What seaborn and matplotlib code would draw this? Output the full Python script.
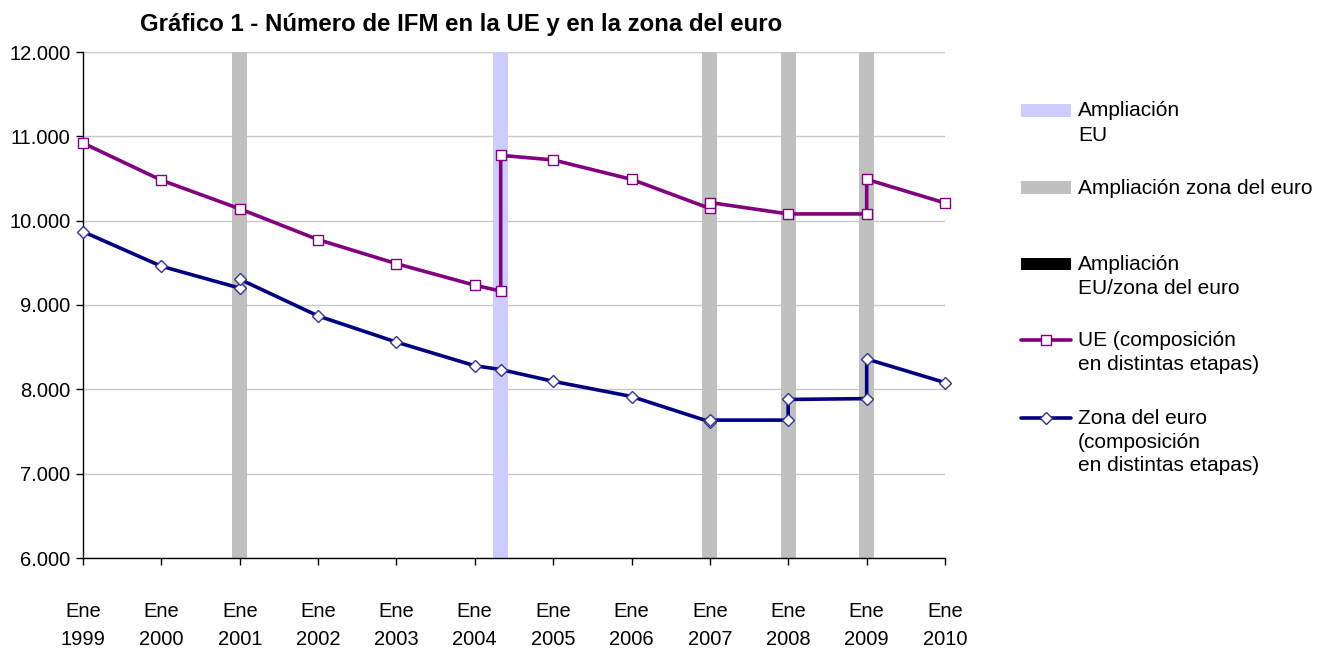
import numpy as np
import pandas as pd
import matplotlib
matplotlib.use("Agg")
import matplotlib.pyplot as plt
import matplotlib.patches as mpatches
import matplotlib.lines as mlines
from matplotlib.ticker import FuncFormatter
import seaborn as sns

# ─── DATA ─────────────────────────────────────────────────────────────────────
ue_fechas = ["1999-01-01", "2000-01-01", "2001-01-01", "2002-01-01", "2003-01-01",
             "2004-01-01", "2004-05-01", "2004-05-01", "2005-01-01", "2006-01-01",
             "2007-01-01", "2007-01-01", "2008-01-01", "2009-01-01", "2009-01-01",
             "2010-01-01"]
ue_valores = [10920, 10480, 10140, 9775, 9490,
              9235, 9165, 10775, 10720, 10490,
              10145, 10215, 10080, 10080, 10490,
              10210]

euro_fechas = ["1999-01-01", "2000-01-01", "2001-01-01", "2001-01-01", "2002-01-01",
               "2003-01-01", "2004-01-01", "2004-05-01", "2005-01-01", "2006-01-01",
               "2007-01-01", "2007-01-01", "2008-01-01", "2008-01-01", "2009-01-01",
               "2009-01-01", "2010-01-01"]
euro_valores = [9870, 9460, 9200, 9305, 8870,
                8560, 8280, 8235, 8095, 7915,
                7615, 7635, 7635, 7880, 7890,
                8360, 8080]

ampliacion_ue = ["2004-05-01"]
ampliacion_euro = ["2001-01-01", "2007-01-01", "2008-01-01", "2009-01-01"]

anios = list(range(1999, 2011))
y_ticks = [6000, 7000, 8000, 9000, 10000, 11000, 12000]

titulo = "Gráfico 1 - Número de IFM en la UE y en la zona del euro"
etiquetas_leyenda = [
    "Ampliación\nEU",
    "Ampliación zona del euro",
    "Ampliación\nEU/zona del euro",
    "UE (composición\nen distintas etapas)",
    "Zona del euro\n(composición\nen distintas etapas)",
]

# ─── STYLE ────────────────────────────────────────────────────────────────────
PURPLE = "#800080"
NAVY = "#000080"
DIAMOND_EDGE = "#333399"
BAND_GRAY = "#C0C0C0"
BAND_BLUE = "#CCCCFF"

sns.set_style("white")
plt.rcParams["font.family"] = ["Liberation Sans", "DejaVu Sans"]
plt.rcParams["text.color"] = "black"
FS_TICK = 14.5
FS_LEG = 15
FS_TITLE = 17.3

df_ue = pd.DataFrame({"fecha": pd.to_datetime(ue_fechas), "valor": ue_valores})
df_euro = pd.DataFrame({"fecha": pd.to_datetime(euro_fechas), "valor": euro_valores})

W, H = 1329, 648
fig = plt.figure(figsize=(W / 100, H / 100), dpi=100)
ax = fig.add_axes([83 / W, 1 - 558 / H, (945 - 83) / W, (558 - 52) / H])

# bands
half = pd.Timedelta(days=35)
for d in ampliacion_euro:
    d = pd.Timestamp(d)
    ax.axvspan(d - half, d + half, color=BAND_GRAY, lw=0, zorder=1)
for d in ampliacion_ue:
    d = pd.Timestamp(d)
    ax.axvspan(d - half, d + half, color=BAND_BLUE, lw=0, zorder=1)

# series
sns.lineplot(data=df_ue, x="fecha", y="valor", sort=False, estimator=None, ax=ax,
             color=PURPLE, linewidth=2.6, marker="s", markersize=7.5,
             markerfacecolor="white", markeredgecolor=PURPLE, markeredgewidth=1.0,
             clip_on=False, zorder=3)
sns.lineplot(data=df_euro, x="fecha", y="valor", sort=False, estimator=None, ax=ax,
             color=NAVY, linewidth=2.6, marker="D", markersize=6.5,
             markerfacecolor="white", markeredgecolor=DIAMOND_EDGE, markeredgewidth=1.0,
             clip_on=False, zorder=3)

# axes
ax.set_xlim(pd.Timestamp("1999-01-01"), pd.Timestamp("2010-01-01"))
ax.set_ylim(6000, 12000)
ax.set_yticks(y_ticks)
ax.yaxis.set_major_formatter(FuncFormatter(lambda v, p: f"{v:,.0f}".replace(",", ".")))
xt = [pd.Timestamp(f"{a}-01-01") for a in anios]
ax.set_xticks(xt)
ax.set_xticklabels([f"Ene\n{a}" for a in anios], linespacing=1.6)
ax.set_xlabel("")
ax.set_ylabel("")
ax.grid(axis="y", color="#C8C8C8", linewidth=1.0, zorder=0)
ax.grid(axis="x", visible=False)
ax.set_axisbelow(True)
for s in ["top", "right"]:
    ax.spines[s].set_visible(False)
for s in ["left", "bottom"]:
    ax.spines[s].set_color("black")
    ax.spines[s].set_linewidth(1.0)
ax.tick_params(axis="x", direction="out", length=5, width=1, color="black",
               labelcolor="black", labelsize=FS_TICK, pad=27, bottom=True)
ax.tick_params(axis="y", direction="out", length=5, width=1, color="black",
               labelcolor="black", labelsize=FS_TICK, pad=4, left=True)

fig.text(461 / W, 1 - 25 / H, titulo, ha="center", va="center",
         fontsize=FS_TITLE, fontweight="bold", color="black")

# legend (manual, first line aligned with handle)
x0, x1, xt_ = 1021 / W, 1071 / W, 1078 / W
rows = [110, 188, 264, 340, 418]
handles = ["blue", "gray", "black", "ue", "euro"]
for kind, lab, yy in zip(handles, etiquetas_leyenda, rows):
    yf = 1 - yy / H
    if kind in ("blue", "gray", "black"):
        col = {"blue": BAND_BLUE, "gray": BAND_GRAY, "black": "black"}[kind]
        h = 13 / H if kind != "black" else 12 / H
        fig.add_artist(mpatches.Rectangle((x0, yf - h / 2), x1 - x0, h,
                                          transform=fig.transFigure, color=col, lw=0))
    else:
        col, mk, mec, ms = ((PURPLE, "s", PURPLE, 7.5) if kind == "ue"
                            else (NAVY, "D", DIAMOND_EDGE, 6.5))
        fig.add_artist(mlines.Line2D([x0, x1], [yf, yf], transform=fig.transFigure,
                                     color=col, lw=2.6))
        fig.add_artist(mlines.Line2D([(x0 + x1) / 2], [yf], transform=fig.transFigure,
                                     marker=mk, markersize=ms, markerfacecolor="white",
                                     markeredgecolor=mec, markeredgewidth=1.0, lw=0))
    ls = 1.4 if kind == "blue" else 1.3
    fig.text(xt_, yf + 9 / H, lab, ha="left", va="top", fontsize=FS_LEG,
             linespacing=ls, transform=fig.transFigure, color="black")

fig.savefig("out.png", dpi=100)
